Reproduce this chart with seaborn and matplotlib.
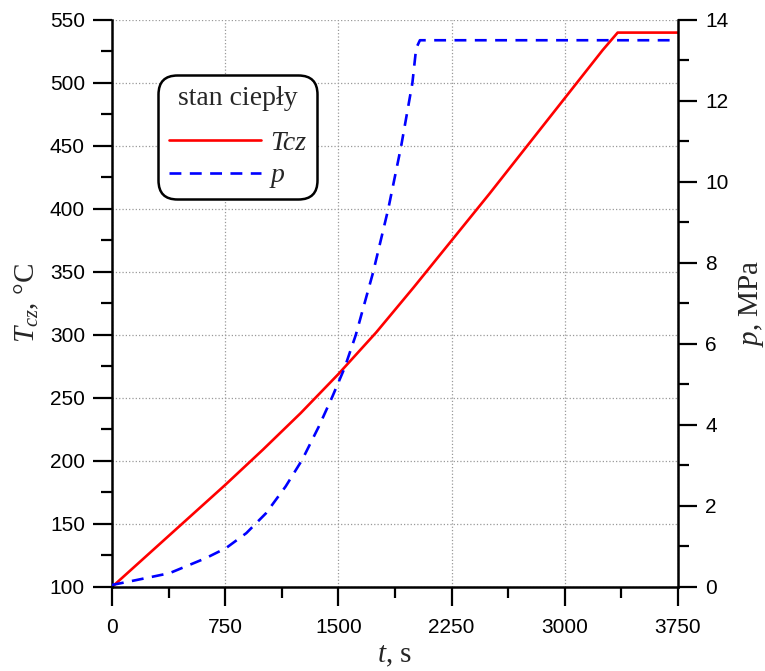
import matplotlib
matplotlib.use('Agg')
import matplotlib.pyplot as plt
from matplotlib.ticker import MultipleLocator
from matplotlib.lines import Line2D
import numpy as np
import pandas as pd
import seaborn as sns

# temperature of the wall, T_cz [°C]
t_T = [0, 250, 500, 750, 1000, 1250, 1500, 1750, 2000, 2250, 2500,
       2750, 3000, 3250, 3350, 3750]
T_cz = [100, 127, 154, 181, 209, 238, 269, 302, 338, 375, 412,
        450, 488, 526, 540, 540]

# pressure, p [MPa]
t_p = [0, 160, 380, 620, 755, 890, 1020, 1150, 1260, 1370, 1460, 1540,
       1615, 1730, 1830, 1915, 1990, 2015, 2040, 3750]
p_MPa = [0.05, 0.17, 0.34, 0.71, 0.96, 1.33, 1.82, 2.48, 3.14, 3.96, 4.70, 5.4,
         6.22, 7.77, 9.33, 10.87, 12.44, 13.3, 13.5, 13.5]

x_ticks = [0, 750, 1500, 2250, 3000, 3750]
legend_title = 'stan ciepły'
legend_labels = ['Tcz', 'p']

sns.set_theme(style='white')
plt.rcParams['font.family'] = ['Liberation Sans', 'DejaVu Sans']
plt.rcParams['mathtext.fontset'] = 'custom'
plt.rcParams['mathtext.rm'] = 'Liberation Serif'
plt.rcParams['mathtext.it'] = 'Liberation Serif:italic'

df_T = pd.DataFrame({'t': t_T, 'T': T_cz})
df_p = pd.DataFrame({'t': t_p, 'p': p_MPa})

fig = plt.figure(figsize=(7.65, 6.71), dpi=100)
ax = fig.add_axes([0.1464, 0.1252, 0.7399, 0.8450])
ax2 = ax.twinx()

sns.lineplot(data=df_T, x='t', y='T', ax=ax, color='#ff0000', lw=1.9, sort=False)
sns.lineplot(data=df_p, x='t', y='p', ax=ax2, color='#0000ff', lw=1.9, sort=False)
ax2.lines[0].set_dashes([4.5, 3.2])

ax.set_xlim(0, 3750)
ax.set_ylim(100, 550)
ax2.set_ylim(0, 14)

ax.set_xticks(x_ticks)
ax.xaxis.set_minor_locator(MultipleLocator(375))
ax.yaxis.set_major_locator(MultipleLocator(50))
ax.yaxis.set_minor_locator(MultipleLocator(25))
ax2.yaxis.set_major_locator(MultipleLocator(2))
ax2.yaxis.set_minor_locator(MultipleLocator(1))

ax.grid(True, which='major', color='#999999', ls=':', lw=0.9)

for a in (ax, ax2):
    a.spines['top'].set_visible(False)
    for s in a.spines.values():
        s.set_linewidth(1.8)
        s.set_color('black')
    a.tick_params(which='major', direction='out', length=13.5, width=1.6,
                  labelsize=15, colors='black', pad=6)
    a.tick_params(which='minor', direction='out', length=8, width=1.6, colors='black')
ax.spines['right'].set_visible(False)
ax2.spines['left'].set_visible(False)
ax2.spines['bottom'].set_visible(False)
ax.tick_params(axis='y', which='both', left=True, right=False)
ax.tick_params(axis='x', which='both', bottom=True, top=False)
ax.tick_params(axis='x', which='major', pad=9)

ax.set_xlabel('$t$, s', fontsize=21, fontfamily='Liberation Serif', labelpad=4)
ax.set_ylabel('$T_{cz}$, °C', fontsize=21, fontfamily='Liberation Serif', labelpad=6)
ax2.set_ylabel('$p$, MPa', fontsize=21, fontfamily='Liberation Serif', labelpad=6)

ax2.set_zorder(ax.get_zorder() + 1)
ax2.patch.set_visible(False)

handles = [Line2D([0], [0], color='#ff0000', lw=1.9),
           Line2D([0], [0], color='#0000ff', lw=1.9, dashes=[4.5, 3.2])]
leg = ax2.legend(handles, legend_labels, title=legend_title, loc='upper left',
                 bbox_to_anchor=(0.081, 0.903), frameon=True, fancybox=True,
                 handlelength=3.3, handletextpad=0.35, borderpad=0.4,
                 labelspacing=0.25, borderaxespad=0,
                 prop={'family': 'Liberation Serif', 'style': 'italic', 'size': 20})
leg.get_title().set_fontfamily('Liberation Serif')
leg.get_title().set_fontsize(20)
leg._legend_box.sep = 14  # extra gap below the title, as in the original
frame = leg.get_frame()
frame.set_edgecolor('black')
frame.set_linewidth(1.8)
frame.set_alpha(1)
frame.set_boxstyle('round,pad=0,rounding_size=0.7')

fig.savefig('out.png', dpi=100)
